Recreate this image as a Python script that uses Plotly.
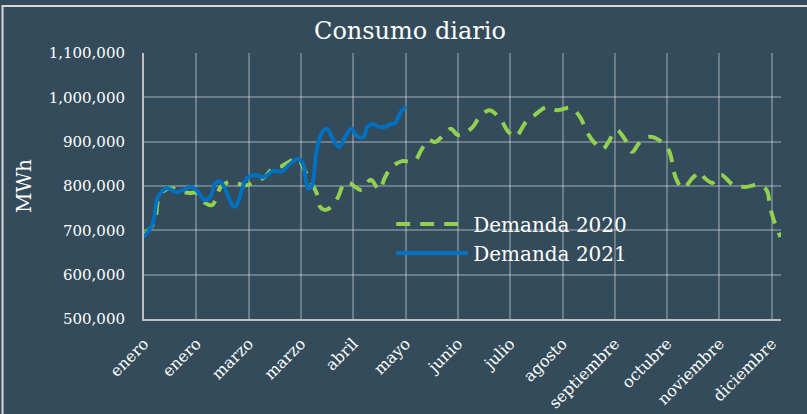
import plotly.graph_objects as go

# ---- data (values in MWh) ----
month_labels = ["enero", "enero", "marzo", "marzo", "abril", "mayo", "junio",
                "julio", "agosto", "septiembre", "octubre", "noviembre", "diciembre"]
tick_days = [0, 30, 60, 90, 120, 150, 180, 210, 240, 270, 300, 330, 360]

days_2020 = [0, 6, 9, 15, 21, 26, 30, 35, 39, 41, 44, 49, 54, 59, 62, 69, 74, 79, 83, 88,
             92, 95, 99, 101, 104, 107, 111, 115, 118, 121, 125, 130, 135, 138, 142, 148,
             155, 159, 163, 167, 170, 176, 180, 188, 192, 198, 204, 209, 213, 219, 224,
             231, 237, 245, 250, 254, 258, 263, 266, 271, 276, 280, 284, 290, 297, 301,
             305, 309, 315, 319, 321, 326, 331, 338, 345, 352, 357, 359, 361, 365]
demanda_2020 = [690000, 719000, 780000, 795000, 788000, 784000, 785000, 762000, 757000, 768000,
                798000, 809000, 805000, 802000, 807000, 820000, 840000, 845000, 854000, 863000,
                836000, 814000, 784000, 753000, 746000, 752000, 773000, 807000, 807000, 798000,
                791000, 814000, 791000, 818000, 843000, 856000,
                856000, 881000, 904000, 899000, 908000, 929000, 915000, 931000, 953000, 971000,
                953000, 922000, 911000, 944000, 960000,
                978000, 971000, 976000, 956000, 922000, 899000, 883000, 897000, 926000, 904000,
                877000, 897000, 911000, 899000, 880000,
                818000, 795000, 820000, 831000, 820000, 807000, 825000, 802000, 798000, 802000,
                791000, 753000, 725000, 685000]

days_2021 = [0, 5, 8, 13, 19, 27, 30, 35, 38, 41, 44, 52, 59, 64, 68, 71, 74, 79, 83, 88,
             91, 94, 96, 99, 102, 105, 108, 112, 115, 119, 122, 126, 128, 131, 135, 138,
             142, 144, 147, 150]
demanda_2021 = [685000, 716000, 775000, 795000, 786000, 798000, 791000, 768000, 775000, 807000,
                809000, 753000, 818000, 825000, 820000, 825000, 834000, 833000, 847000, 861000,
                852000, 795000, 798000, 881000, 920000, 929000, 908000, 888000, 908000, 929000,
                913000, 911000, 933000, 940000, 933000, 933000,
                940000, 942000, 965000, 980000]

BG = "#334B5A"
FONT = "DejaVu Serif"

fig = go.Figure()
fig.add_trace(go.Scatter(
    x=days_2020, y=demanda_2020, name="Demanda 2020", mode="lines",
    line=dict(color="#92D050", width=4, dash="14px,10px", shape="spline", smoothing=1.0),
))
fig.add_trace(go.Scatter(
    x=days_2021, y=demanda_2021, name="Demanda 2021", mode="lines",
    line=dict(color="#0070C0", width=4, shape="spline", smoothing=1.0),
))

fig.update_layout(
    width=807, height=414,
    paper_bgcolor=BG, plot_bgcolor=BG,
    margin=dict(l=144, r=26, t=53, b=95, autoexpand=False),
    font=dict(family=FONT, color="white"),
    title=dict(text="Consumo diario", x=0.508, xanchor="center", y=0.927, yanchor="middle",
               font=dict(size=24, family=FONT, color="white")),
    showlegend=True,
    legend=dict(x=0.388, xanchor="left", y=0.43, yanchor="top",
                bgcolor="rgba(0,0,0,0)", itemwidth=72,
                font=dict(size=20, family=FONT, color="white")),
    shapes=[dict(type="rect", xref="paper", yref="paper",
                 x0=-0.2221, x1=1.2, y0=-0.6, y1=1.1767,
                 line=dict(color="#D9D9D9", width=2), layer="below")],
)
fig.update_xaxes(
    automargin=False,
    range=[0, 365.3], tickmode="array", tickvals=tick_days, ticktext=month_labels,
    tickangle=-45, tickfont=dict(size=16, family=FONT, color="white"),
    showgrid=True, gridcolor="rgba(255,255,255,0.28)", gridwidth=1.5,
    showline=True, linecolor="#BFBFBF", linewidth=2, zeroline=False, ticks="",
    ticklabelstandoff=7,
)
fig.update_yaxes(
    automargin=False,
    range=[500000, 1100000], dtick=100000, tickformat=",",
    tickfont=dict(size=15, family=FONT, color="white"),
    title=dict(text="MWh", font=dict(size=20, family=FONT, color="white"), standoff=12),
    showgrid=True, gridcolor="rgba(255,255,255,0.28)", gridwidth=1.5,
    showline=True, linecolor="#BFBFBF", linewidth=2, zeroline=False, ticks="",
    ticklabelstandoff=14,
)

fig.write_html(
    "out.html",
    config={"displayModeBar": False},
    post_script="document.body.style.margin='0';document.body.style.background='" + BG + "';",
)
